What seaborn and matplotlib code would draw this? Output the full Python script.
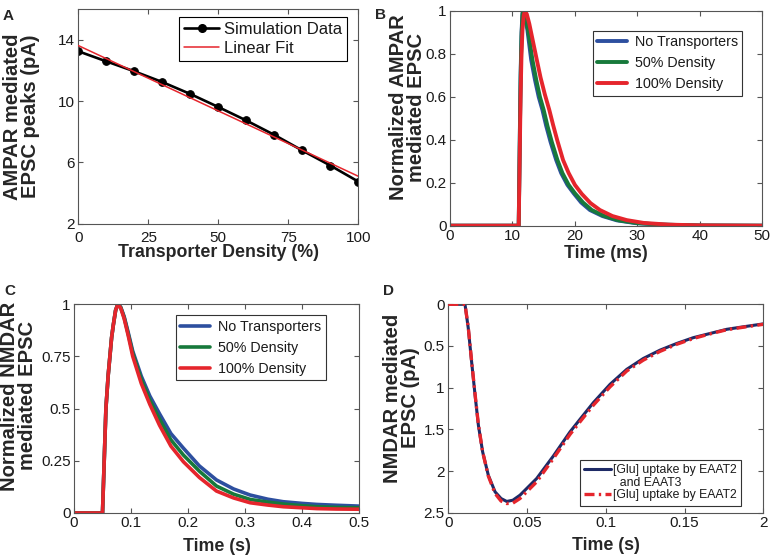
import numpy as np
import pandas as pd
import matplotlib
matplotlib.use("Agg")
import matplotlib.pyplot as plt
from matplotlib.lines import Line2D
import seaborn as sns

# ---------------- data ----------------
# Panel A
density = [0, 10, 20, 30, 40, 50, 60, 70, 80, 90, 100]
peaks = [13.26, 12.60, 11.95, 11.25, 10.47, 9.62, 8.74, 7.80, 6.78, 5.80, 4.75]

# Panel B (time in ms, normalized AMPAR EPSC)
b_t_none = [0, 11.0, 11.15, 11.3, 11.45, 11.6, 11.7, 12.0, 12.4, 13.0, 13.6, 14.2, 14.8, 15.4, 16.1,
            17.0, 17.8, 18.8, 19.8, 21.0, 22.4, 24.4, 26.7, 29.7, 33.7, 40, 50]
b_v_none = [0, 0, 0.36, 0.70, 0.90, 0.99, 1.0, 0.975, 0.91, 0.772, 0.68, 0.60, 0.539, 0.465, 0.39,
            0.306, 0.245, 0.19, 0.151, 0.108, 0.073, 0.045, 0.025, 0.012, 0.005, 0.001, 0]
b_t_50 = [0, 11.0, 11.15, 11.3, 11.45, 11.6, 11.7, 12.0, 12.5, 13.2, 13.8, 14.4, 15.0, 15.6, 16.3,
          17.2, 18.0, 19.0, 20.0, 21.3, 22.7, 24.7, 27.0, 30.0, 34.0, 40, 50]
b_v_50 = [0, 0, 0.35, 0.68, 0.88, 0.98, 1.0, 0.98, 0.91, 0.772, 0.68, 0.60, 0.539, 0.465, 0.39,
          0.306, 0.245, 0.19, 0.151, 0.108, 0.073, 0.045, 0.025, 0.012, 0.005, 0.001, 0]
b_t_100 = [0, 11.0, 11.15, 11.3, 11.45, 11.6, 11.8, 12.0, 12.3, 12.7, 13.2, 13.9, 14.5, 15.2, 15.9,
           16.5, 17.2, 18.1, 19.0, 20.0, 21.1, 22.5, 24.0, 26.0, 28.3, 31, 35, 40, 50]
b_v_100 = [0, 0, 0.30, 0.60, 0.80, 0.91, 0.98, 1.0, 0.985, 0.94, 0.87, 0.772, 0.69, 0.61, 0.539,
           0.47, 0.395, 0.306, 0.245, 0.19, 0.148, 0.105, 0.073, 0.045, 0.026, 0.013, 0.005, 0.0015, 0]

# Panel C (time in s, normalized NMDAR EPSC)
c_t = [0, 0.05, 0.053, 0.056, 0.060, 0.063, 0.066, 0.069, 0.073, 0.077, 0.082, 0.088, 0.095,
       0.103, 0.118, 0.133, 0.150, 0.170, 0.192, 0.22, 0.25, 0.28, 0.309, 0.34, 0.367, 0.4,
       0.426, 0.46, 0.5]
c_none = [0, 0, 0.25, 0.5, 0.66, 0.75, 0.84, 0.9, 0.97, 1.0, 0.985, 0.94, 0.865,
          0.775, 0.655, 0.56, 0.475, 0.38, 0.31, 0.225, 0.158, 0.115, 0.086, 0.066, 0.054, 0.046,
          0.041, 0.037, 0.033]
c_50 = [0, 0, 0.25, 0.5, 0.66, 0.75, 0.84, 0.9, 0.97, 1.0, 0.983, 0.935, 0.857,
        0.765, 0.64, 0.54, 0.45, 0.35, 0.277, 0.20, 0.129, 0.09, 0.065, 0.052, 0.043, 0.035,
        0.030, 0.027, 0.025]
c_100 = [0, 0, 0.25, 0.5, 0.66, 0.75, 0.84, 0.9, 0.97, 1.0, 0.98, 0.93, 0.85,
         0.75, 0.62, 0.52, 0.42, 0.32, 0.245, 0.17, 0.105, 0.072, 0.049, 0.038, 0.030, 0.025,
         0.021, 0.019, 0.018]

# Panel D (time in s, NMDAR EPSC in pA, plotted on reversed axis)
d_t = [0, 0.0106, 0.0127, 0.0148, 0.0170, 0.0191, 0.0218, 0.0254, 0.0297, 0.0335, 0.0371,
       0.0410, 0.0455, 0.0561, 0.0667, 0.0773, 0.0836, 0.0921, 0.1027, 0.1133, 0.1238, 0.1344,
       0.145, 0.1556, 0.1662, 0.1768, 0.1873, 0.2]
d_eaat23 = [0, 0, 0.29, 0.69, 1.09, 1.45, 1.77, 2.05, 2.25, 2.33, 2.365, 2.35, 2.29, 2.09, 1.82,
            1.53, 1.38, 1.18, 0.96, 0.78, 0.65, 0.55, 0.47, 0.40, 0.35, 0.30, 0.27, 0.235]
d_eaat2 = [0, 0, 0.28, 0.68, 1.08, 1.44, 1.77, 2.06, 2.27, 2.36, 2.39, 2.385, 2.33, 2.13, 1.85,
           1.56, 1.41, 1.21, 0.99, 0.80, 0.67, 0.565, 0.48, 0.41, 0.355, 0.305, 0.275, 0.24]

series_names = ["No Transporters", "50% Density", "100% Density"]
d_names = ["[Glu] uptake by EAAT2\nand EAAT3", "[Glu] uptake by EAAT2"]

# ---------------- style ----------------
BLUE = "#2d4f9f"
GREEN = "#17793b"
RED = "#e5252c"
NAVY = "#1e2a66"

sns.set_style("ticks")
plt.rcParams["font.family"] = ["Liberation Sans", "DejaVu Sans"]
plt.rcParams.update({
    "xtick.direction": "in", "ytick.direction": "in",
    "xtick.top": True, "ytick.right": True,
    "xtick.major.size": 3.5, "ytick.major.size": 3.5,
    "xtick.major.width": 0.8, "ytick.major.width": 0.8,
    "xtick.color": "#555555", "ytick.color": "#555555",
    "xtick.labelcolor": "#1a1a1a", "ytick.labelcolor": "#1a1a1a",
    "xtick.labelsize": 11, "ytick.labelsize": 11,
    "xtick.major.pad": 2.5, "ytick.major.pad": 2.5,
    "axes.edgecolor": "#555555", "axes.linewidth": 0.8,
    "legend.labelcolor": "#1a1a1a",
})

fig = plt.figure(figsize=(7.73, 5.58), dpi=100)
W, H = 773, 558


def add_ax(l, r, t, b):
    return fig.add_axes([l / W, 1 - b / H, (r - l) / W, (b - t) / H])


axA = add_ax(78.3, 358.3, 9.3, 223.7)
axB = add_ax(450, 762.3, 11, 225.7)
axC = add_ax(74, 359, 304, 513)
axD = add_ax(448.3, 763.3, 304.3, 512.7)

LABEL_KW = dict(fontweight="bold", fontsize=12.8)
YLABEL_KW = dict(fontweight="bold", fontsize=14.5, multialignment="center", linespacing=0.95)

# ---------------- Panel A ----------------
dfA = pd.DataFrame({"density": density, "peak": peaks})
sns.lineplot(data=dfA, x="density", y="peak", color="black", lw=1.9, marker="o",
             markersize=5.5, markeredgecolor="black", ax=axA, zorder=2)
slope, intercept = np.polyfit(density, peaks, 1)
fit_x = [density[0], density[-1]]
fit_y = [slope * x + intercept for x in fit_x]
sns.lineplot(x=fit_x, y=fit_y, color=RED, lw=1.1, ax=axA, zorder=3)
axA.set_xlim(0, 100)
axA.set_ylim(2, 16)
axA.set_xticks([0, 25, 50, 75, 100])
axA.set_yticks([2, 6, 10, 14])
axA.tick_params(axis="x", pad=5)
axA.set_xlabel("Transporter Density (%)", **LABEL_KW)
axA.set_ylabel("AMPAR mediated\nEPSC peaks (pA)", **YLABEL_KW)
hA = [Line2D([], [], color="black", lw=1.9, marker="o", ms=5.5),
      Line2D([], [], color=RED, lw=1.1)]
legA = axA.legend(hA, ["Simulation Data", "Linear Fit"], loc="upper left",
                  bbox_to_anchor=(0.36, 0.964), borderaxespad=0, fontsize=12,
                  handlelength=2.1, handletextpad=0.3, borderpad=0.3, labelspacing=0.25,
                  frameon=True, fancybox=False, edgecolor="black", framealpha=1)
legA.get_frame().set_linewidth(0.8)

# ---------------- Panel B ----------------
dfB = pd.concat([
    pd.DataFrame({"t": b_t_none, "v": b_v_none, "s": series_names[0]}),
    pd.DataFrame({"t": b_t_50, "v": b_v_50, "s": series_names[1]}),
    pd.DataFrame({"t": b_t_100, "v": b_v_100, "s": series_names[2]}),
])
pal = dict(zip(series_names, [BLUE, GREEN, RED]))
sns.lineplot(data=dfB, x="t", y="v", hue="s", hue_order=series_names, palette=pal,
             lw=2.8, estimator=None, legend=False, ax=axB)
axB.set_xlim(0, 50)
axB.set_ylim(0, 1)
axB.set_xticks([0, 10, 20, 30, 40, 50])
axB.set_yticks([0, 0.2, 0.4, 0.6, 0.8, 1])
axB.set_yticklabels(["0", "0.2", "0.4", "0.6", "0.8", "1"])
axB.set_xlabel("Time (ms)", **LABEL_KW)
axB.set_ylabel("Normalized AMPAR\nmediated EPSC", **YLABEL_KW)


def three_handles(lw):
    return [Line2D([], [], color=c, lw=lw) for c in (BLUE, GREEN, RED)]


LEG3 = dict(loc="upper left", borderaxespad=0, fontsize=10.3, handlelength=2.1,
            handletextpad=0.55, borderpad=0.3, labelspacing=0.5, frameon=True,
            fancybox=False, edgecolor="#333333", framealpha=1)
legB = axB.legend(three_handles(2.8), series_names, bbox_to_anchor=(0.457, 0.908), **LEG3)
legB.get_frame().set_linewidth(0.8)

# ---------------- Panel C ----------------
dfC = pd.concat([
    pd.DataFrame({"t": c_t, "v": c_none, "s": series_names[0]}),
    pd.DataFrame({"t": c_t, "v": c_50, "s": series_names[1]}),
    pd.DataFrame({"t": c_t, "v": c_100, "s": series_names[2]}),
])
sns.lineplot(data=dfC, x="t", y="v", hue="s", hue_order=series_names, palette=pal,
             lw=2.6, estimator=None, legend=False, ax=axC)
axC.set_xlim(0, 0.5)
axC.set_ylim(0, 1)
axC.set_xticks([0, 0.1, 0.2, 0.3, 0.4, 0.5])
axC.set_xticklabels(["0", "0.1", "0.2", "0.3", "0.4", "0.5"])
axC.set_yticks([0, 0.25, 0.5, 0.75, 1])
axC.set_yticklabels(["0", "0.25", "0.5", "0.75", "1"])
axC.set_xlabel("Time (s)", **LABEL_KW)
axC.set_ylabel("Normalized NMDAR\nmediated EPSC", **YLABEL_KW)
legC = axC.legend(three_handles(2.6), series_names, bbox_to_anchor=(0.358, 0.946), **LEG3)
legC.get_frame().set_linewidth(0.8)

# ---------------- Panel D ----------------
DASH = (0, (3.0, 1.3, 0.7, 1.3))
sns.lineplot(x=d_t, y=d_eaat23, color=NAVY, lw=2.2, ax=axD, zorder=2)
sns.lineplot(x=d_t, y=d_eaat2, color=RED, lw=2.4, ax=axD, zorder=3, linestyle=DASH)
axD.set_xlim(0, 0.2)
axD.set_ylim(2.5, 0)
axD.set_xticks([0, 0.05, 0.1, 0.15, 0.2])
axD.set_xticklabels(["0", "0.05", "0.1", "0.15", "2"])
axD.set_yticks([0, 0.5, 1, 1.5, 2, 2.5])
axD.set_yticklabels(["0", "0.5", "1", "1.5", "2", "2.5"])
axD.set_xlabel("Time (s)", **LABEL_KW)
axD.set_ylabel("NMDAR mediated\nEPSC (pA)", **YLABEL_KW)
first, second = d_names[0].split("\n")
hD = [Line2D([], [], color=NAVY, lw=2.2),
      Line2D([], [], color="none", lw=0),
      Line2D([], [], color=RED, lw=2.4, linestyle=DASH)]
legD = axD.legend(hD, [first, "  " + second, d_names[1]], loc="upper left",
                  bbox_to_anchor=(0.418, 0.254), borderaxespad=0, fontsize=8.8,
                  handlelength=2.2, handletextpad=0.15, borderpad=0.35, labelspacing=0.05,
                  frameon=True, fancybox=False, edgecolor="#333333", framealpha=1)
legD.get_frame().set_linewidth(0.8)

# label positions
axA.yaxis.set_label_coords(-0.137, 0.5)
axB.yaxis.set_label_coords(-0.076, 0.55)
axC.yaxis.set_label_coords(-0.130, 0.56)
axD.yaxis.set_label_coords(-0.090, 0.55)
for ax, y in ((axA, -0.095), (axB, -0.09), (axC, -0.118), (axD, -0.115)):
    ax.xaxis.set_label_coords(0.5, y)
    ax.xaxis.label.set_va("top")

for ax in (axA, axB, axC, axD):
    for sp in ax.spines.values():
        sp.set_visible(True)

# panel letters
LET = dict(fontweight="bold", fontsize=11, ha="left", va="center")
fig.text(3 / W, 1 - 16 / H, "A", **LET)
fig.text(375 / W, 1 - 15 / H, "B", **LET)
fig.text(4 / W, 1 - 291 / H, "C", **LET)
fig.text(383 / W, 1 - 291 / H, "D", **LET)

fig.savefig("out.png", dpi=100)
